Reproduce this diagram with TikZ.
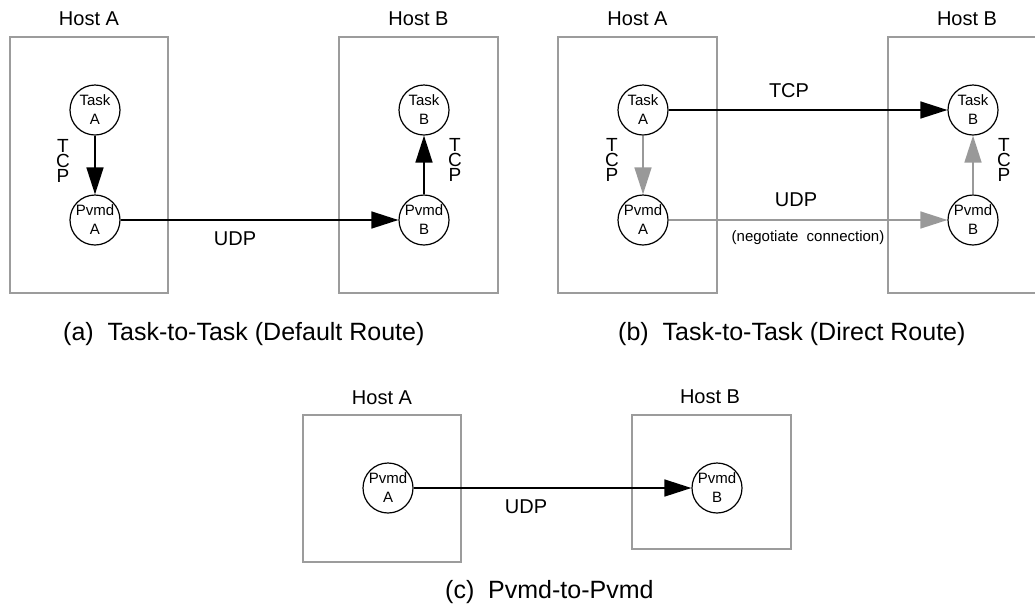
\documentclass[tikz,border=0pt]{standalone}
\usepackage{fontspec}
\setmainfont{Liberation Sans}
\usetikzlibrary{arrows.meta}
\definecolor{hostgray}{HTML}{9C9C9C}
\definecolor{linkgray}{HTML}{999999}
\tikzset{
  hostbox/.style={draw=hostgray, line width=1.3pt},
  hostlabel/.style={anchor=base, inner sep=0pt, font=\fontsize{20}{24}\selectfont},
  proc/.style={draw=black, circle, line width=1.2pt, minimum size=50pt, inner sep=0pt},
  proctext/.style={align=center, inner sep=0pt, font=\fontsize{15}{19}\selectfont},
  vlabel/.style={anchor=north, align=center, inner sep=0pt, font=\fontsize{19}{15.2}\selectfont},
  linklabel/.style={inner sep=0pt, font=\fontsize{20}{24}\selectfont},
  smalllabel/.style={inner sep=0pt, font=\fontsize{15}{18}\selectfont},
  caption/.style={anchor=base west, inner sep=0pt, font=\fontsize{25}{30}\selectfont},
  link/.style={line width=1.5pt, -{Triangle[length=27pt, width=17pt]}},
  blacklink/.style={link, draw=black, fill=black},
  graylink/.style={link, draw=linkgray, fill=linkgray},
}
\begin{document}
\begin{tikzpicture}[x=1pt, y=-1pt]
\useasboundingbox (0,0) rectangle (1035,606);

% ---------- (a) Task-to-Task, default route ----------
\draw[hostbox] (10,37) rectangle (168,293);
\draw[hostbox] (339,37) rectangle (498,293);
\node[hostlabel] (aha) at (89,25) {Host A};
\node[hostlabel] (ahb) at (418.5,25) {Host B};
\node[proc] (ata) at (95,110) {};
\node[proctext] (atat) at (ata) {Task\\A};
\node[proc] (apa) at (95,220) {};
\node[proctext] (apat) at (apa) {Pvmd\\A};
\node[proc] (atb) at (424,110) {};
\node[proctext] (atbt) at (atb) {Task\\B};
\node[proc] (apb) at (424,220) {};
\node[proctext] (apbt) at (apb) {Pvmd\\B};
\node[vlabel] (atcpa) at (63,139) {T\\C\\P};
\node[vlabel] (atcpb) at (455,138) {T\\C\\P};
\node[linklabel] (audp) at (235,238.5) {UDP};
\draw[blacklink] (ata) -- (apa);
\draw[blacklink] (apb) -- (atb);
\draw[blacklink] (apa) -- (apb);
\node[caption] (capa) at (63,340) {(a)\ \ Task-to-Task (Default Route)};

% ---------- (b) Task-to-Task, direct route ----------
\draw[hostbox] (558,37) rectangle (717,293);
\draw[hostbox] (888,37) rectangle (1046,293);
\node[hostlabel] (bha) at (637.5,25) {Host A};
\node[hostlabel] (bhb) at (967,25) {Host B};
\node[proc] (bta) at (643,110) {};
\node[proctext] (btat) at (bta) {Task\\A};
\node[proc] (bpa) at (643,220) {};
\node[proctext] (bpat) at (bpa) {Pvmd\\A};
\node[proc] (btb) at (973,110) {};
\node[proctext] (btbt) at (btb) {Task\\B};
\node[proc] (bpb) at (973,220) {};
\node[proctext] (bpbt) at (bpb) {Pvmd\\B};
\node[vlabel] (btcpa) at (612,138) {T\\C\\P};
\node[vlabel] (btcpb) at (1004,138) {T\\C\\P};
\draw[graylink] (bta) -- (bpa);
\draw[graylink] (bpb) -- (btb);
\draw[blacklink] (bta) -- (btb);
\draw[graylink] (bpa) -- (bpb);
\node[linklabel] (btcp) at (789,90.5) {TCP};
\node[linklabel] (budp) at (796,200) {UDP};
\node[smalllabel] (bneg) at (808,238) {(negotiate\ \ connection)};
\node[caption] (capb) at (618,340) {(b)\ \ Task-to-Task (Direct Route)};

% ---------- (c) Pvmd-to-Pvmd ----------
\draw[hostbox] (303,415) rectangle (461,562);
\draw[hostbox] (632,415) rectangle (791,549);
\node[hostlabel] (cha) at (382,404) {Host A};
\node[hostlabel] (chb) at (710,403) {Host B};
\node[proc] (cpa) at (388,488) {};
\node[proctext] (cpat) at (cpa) {Pvmd\\A};
\node[proc] (cpb) at (717,488) {};
\node[proctext] (cpbt) at (cpb) {Pvmd\\B};
\draw[blacklink] (cpa) -- (cpb);
\node[linklabel] (cudp) at (526,507) {UDP};
\node[caption] (capc) at (445,598) {(c)\ \ Pvmd-to-Pvmd};
\end{tikzpicture}
\end{document}
